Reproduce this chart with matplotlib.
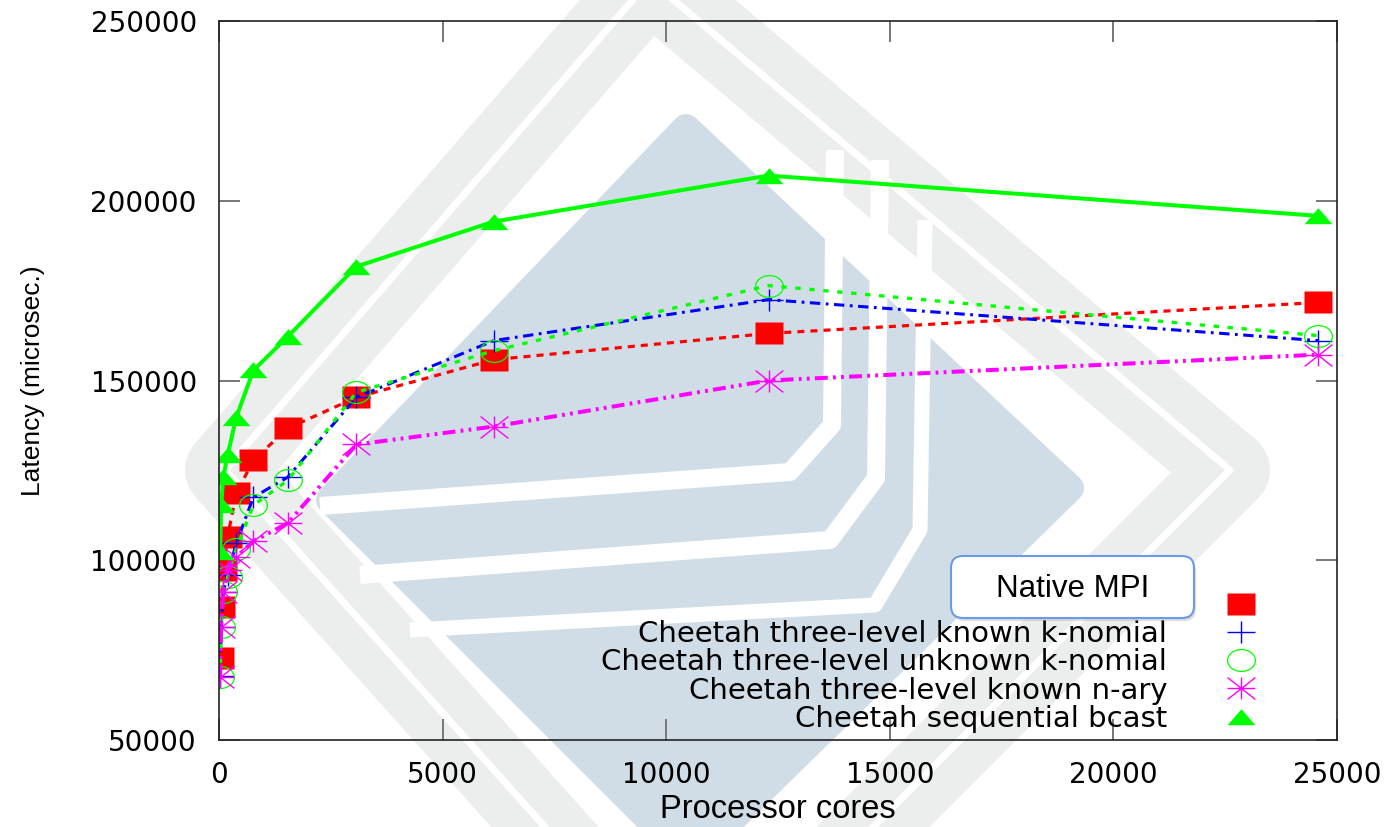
import numpy as np
import matplotlib
matplotlib.use("Agg")
import matplotlib.pyplot as plt
from matplotlib.path import Path
from matplotlib.lines import Line2D
from matplotlib.patches import FancyBboxPatch
from matplotlib.transforms import IdentityTransform

# ---------------- data ----------------
cores = [24, 48, 96, 192, 384, 768, 1536, 3072, 6144, 12288, 24576]
native_mpi = [72800, 86900, 97200, 106400, 118600, 127800, 136700, 145300, 155800, 163100, 171700]
known_knomial = [67800, 81400, 91100, 95800, 104700, 117500, 123100, 145300, 161100, 172500, 161100]
unknown_knomial = [67500, 81400, 91100, 95300, 103100, 115300, 122200, 146700, 158300, 176400, 162500]
known_nary = [67500, 81400, 91100, 97200, 100800, 105300, 110300, 132200, 137200, 150000, 157200]
seq_bcast = [102200, 115300, 123100, 129200, 139700, 152800, 162200, 181700, 194200, 207000, 195800]

labels = ["Native MPI",
          "Cheetah three-level known k-nomial",
          "Cheetah three-level unknown k-nomial",
          "Cheetah three-level known n-ary",
          "Cheetah sequential bcast"]
xticks = [0, 5000, 10000, 15000, 20000, 25000]
yticks = [50000, 100000, 150000, 200000, 250000]
xlabel = "Processor cores"
ylabel = "Latency (microsec.)"

# ---------------- figure ----------------
W, H = 1387, 827
fig = plt.figure(figsize=(W / 100, H / 100), dpi=100)

# faint background watermark (decoration, pixel coordinates)
bg = fig.add_axes([0, 0, 1, 1], zorder=-10)
bg.set_xlim(0, W)
bg.set_ylim(H, 0)
bg.axis("off")
gx = [650, 1230, 700, 225, 650]
gy = [-20, 470, 1000, 470, -20]
bg.plot(gx, gy, color="#eceeee", lw=80 * 0.72, solid_joinstyle="round")
bg.plot(gx, gy, color="white", lw=7 * 0.72, solid_joinstyle="round")
bx = [686, 1070, 690, 330]
by = [128, 488, 860, 500]
bg.fill(bx, by, color="#d0dde6", ec="#d0dde6", lw=28 * 0.72, joinstyle="round")
for sx, sy, w in [([835, 832, 790, 320], [150, 425, 472, 506], 18),
                  ([880, 876, 830, 360], [160, 478, 540, 575], 18),
                  ([925, 920, 875, 410], [220, 530, 605, 630], 15)]:
    bg.plot(sx, sy, color="white", lw=w * 0.72, solid_joinstyle="round",
            solid_capstyle="butt")

# main axes
L, R, T, B = 219, 1337, 21, 740
ax = fig.add_axes([L / W, 1 - B / H, (R - L) / W, (B - T) / H])
ax.set_facecolor("none")

# markers
sq = Path([(-1.27, -1), (1.27, -1), (1.27, 1), (-1.27, 1), (-1.27, -1)])
plus = Path([(-1.27, 0), (1.27, 0), (0, -1), (0, 1)],
            [Path.MOVETO, Path.LINETO, Path.MOVETO, Path.LINETO])
t = np.linspace(0, 2 * np.pi, 60)
ell = Path(np.column_stack([1.27 * np.cos(t), np.sin(t)]))
star = Path([(-1.27, 0), (1.27, 0), (0, -1), (0, 1), (-1.27, -1), (1.27, 1), (-1.27, 1), (1.27, -1)],
            [Path.MOVETO, Path.LINETO] * 4)
tri = Path([(-1.3, -0.72), (1.3, -0.72), (0, 0.78), (-1.3, -0.72)])

styles = [
    dict(color="#ff0000", lw=2.3, ls=(0, (2.2, 1.9)), marker=sq, ms=20, mfc="#ff0000", mec="none"),
    dict(color="#0000ff", lw=2.2, ls=(0, (3.4, 1.8, 0.9, 1.8)), marker=plus, ms=20, mfc="none", mec="#0000ff", mew=1.0),
    dict(color="#00ff00", lw=2.4, ls=(0, (1.6, 2.6)), marker=ell, ms=20, mfc="none", mec="#00ff00", mew=0.9),
    dict(color="#ff00ff", lw=2.9, ls=(0, (3.2, 1.3, 0.7, 1.3, 0.7, 1.3)), marker=star, ms=20, mfc="none", mec="#ff00ff", mew=1.0),
    dict(color="#00ff00", lw=2.9, ls="-", marker=tri, ms=20, mfc="#00ff00", mec="none"),
]
series = [native_mpi, known_knomial, unknown_knomial, known_nary, seq_bcast]

for ys, st in zip(series, styles):
    ax.plot(cores, ys, **st)

ax.set_xlim(0, 25000)
ax.set_ylim(50000, 250000)
ax.set_xticks(xticks)
ax.set_yticks(yticks)
ax.set_xticklabels([str(v) for v in xticks], family="DejaVu Sans", fontsize=20)
ax.set_yticklabels([str(v) for v in yticks], family="DejaVu Sans", fontsize=20)
ax.tick_params(axis="both", direction="in", length=15, width=1.4, color="#777777",
               top=True, right=True)
ax.tick_params(axis="y", pad=16)
ax.tick_params(axis="x", pad=15)
for sp in ax.spines.values():
    sp.set_linewidth(1.2)
    sp.set_color("#222222")

ax.set_xlabel(xlabel, family="Liberation Sans", fontsize=23.5)
ax.xaxis.set_label_coords(0.5, -0.0751)
ax.set_ylabel(ylabel, family="Liberation Sans", fontsize=19)
ax.yaxis.set_label_coords(-0.156, 0.5)

# legend (markers only, text right-aligned before the marker)
handles = []
for st in styles:
    h = Line2D([], [], ls="none", marker=st["marker"], ms=st["ms"], mfc=st["mfc"],
               mec=st["mec"], mew=st.get("mew", 1.0))
    handles.append(h)
leg_labels = [" "] + labels[1:]
fs = 21
leg = ax.legend(handles, leg_labels, loc="lower right",
                bbox_to_anchor=((1263 - L) / (R - L), (B - 733) / (B - T)),
                frameon=False, markerfirst=False, borderpad=0, borderaxespad=0,
                handlelength=1.5, handletextpad=1.78, labelspacing=0.01,
                prop=dict(family="DejaVu Sans", size=fs))

# "Native MPI" callout box
shadow = FancyBboxPatch((951 + 2, H - 618 - 3), 243, 62,
                        boxstyle="round,pad=0,rounding_size=12",
                        transform=IdentityTransform(), fc="#bbbbbb", ec="none",
                        alpha=0.5, zorder=9)
box = FancyBboxPatch((951, H - 618), 243, 62,
                     boxstyle="round,pad=0,rounding_size=12",
                     transform=IdentityTransform(), fc="white", ec="#6b9be8",
                     lw=1.5, zorder=10)
fig.add_artist(shadow)
fig.add_artist(box)
fig.text(1073, H - 589, labels[0], transform=IdentityTransform(), ha="center",
         va="center", family="Liberation Sans", fontsize=22.5, zorder=11)

fig.savefig("out.png", dpi=100)
